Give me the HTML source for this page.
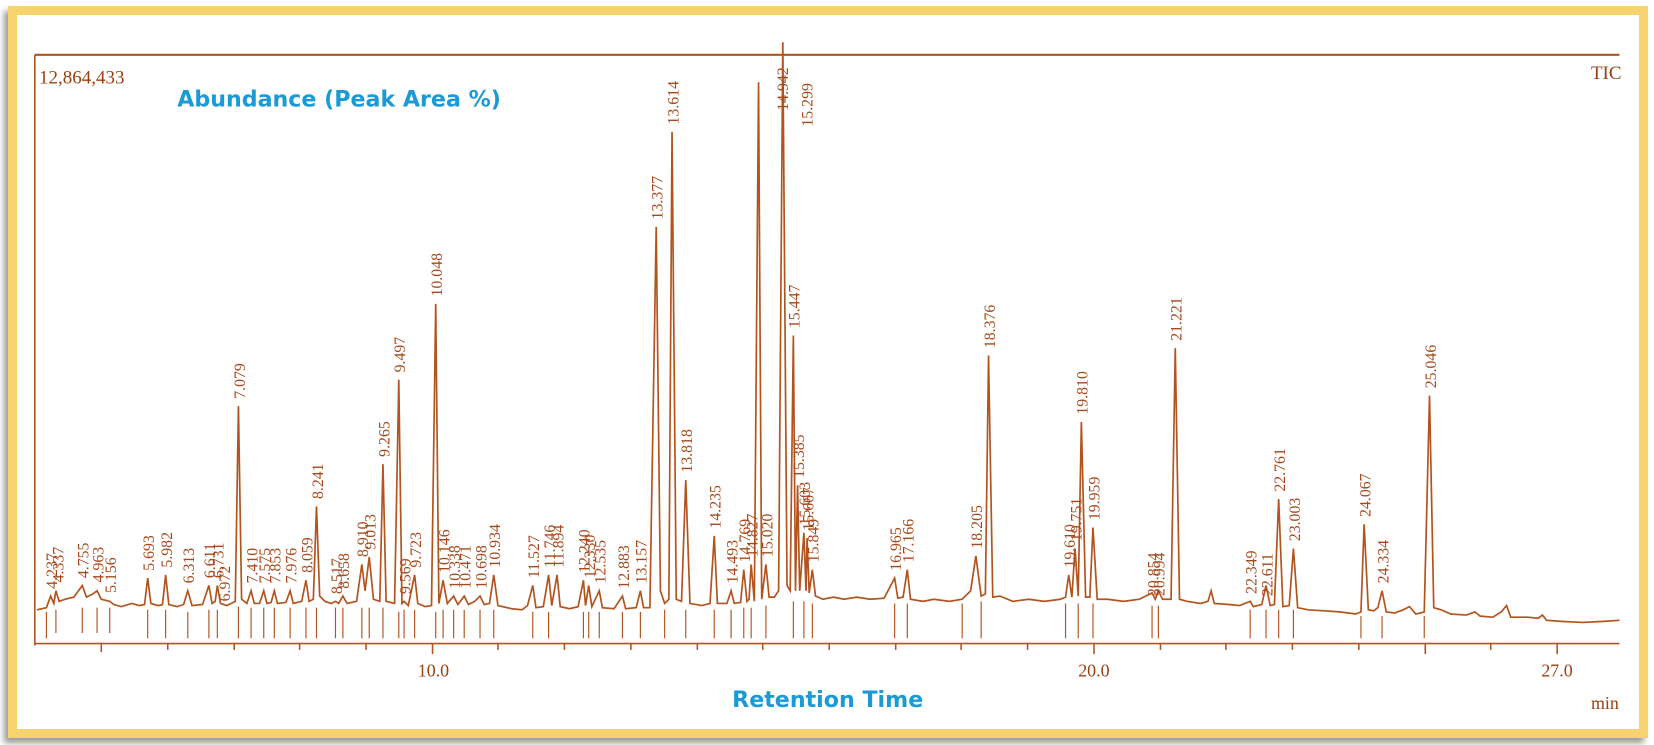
<!DOCTYPE html>
<html><head><meta charset="utf-8"><style>
html,body{margin:0;padding:0;background:#fff;width:1654px;height:745px;overflow:hidden}
#f{position:absolute;left:8px;top:6px;width:1622px;height:714px;border:9px solid #f6d36e;box-shadow:-4px 5px 6px #9a9a9a;background:#fff}
svg{position:absolute;left:0;top:0}
</style></head><body>
<div id="f"></div>
<svg width="1654" height="745" viewBox="0 0 1654 745">
<g transform="scale(1.055)" font-family="Liberation Serif, serif" fill="none" stroke="#b2541e">
<line x1="33" y1="52" x2="1535" y2="52" stroke-width="2"/>
<line x1="33" y1="52" x2="33" y2="612" stroke-width="1.5"/>
<line x1="33" y1="610" x2="1535" y2="610" stroke-width="1.5"/>
<g stroke-width="1.5">
<path d="M96 610v8M159 610v6M222 610v6M284 610v6M347 610v6M410 610v10M472 610v6M535 610v6M598 610v6M661 610v6M723 610v6M786 610v6M849 610v6M911 610v6M974 610v6M1037 610v10M1100 610v6M1162 610v6M1225 610v6M1288 610v6M1351 610v10M1413 610v6M1476 610v10"/>
</g>
<path stroke-width="1.6" d="M35 578 L44 576 L48 565 L51 572 L53 560 L56 570 L62 568 L70 566 L78 555 L82 566 L88 563 L92 560 L96 568 L104 570 L108 573 L115 575 L125 572 L132 574 L137 573 L140 548 L143 572 L150 574 L154 573 L157 545 L160 573 L168 575 L174 573 L178 560 L182 574 L192 573 L198 555 L201 572 L204 570 L206 555 L209 572 L215 574 L223 570 L226 385 L229 568 L234 572 L238 560 L241 572 L246 572 L250 560 L253 572 L257 571 L260 560 L263 572 L271 571 L275 560 L278 572 L286 570 L290 550 L293 570 L297 568 L300 480 L303 565 L308 570 L314 572 L318 570 L321 572 L325 565 L329 572 L338 570 L343 535 L346 560 L350 528 L354 568 L360 570 L363 440 L366 570 L374 572 L378 360 L381 572 L383 570 L387 574 L393 545 L396 572 L403 575 L409 574 L413 288 L416 572 L420 550 L424 572 L430 565 L434 573 L440 565 L444 573 L450 570 L455 565 L459 573 L464 572 L468 545 L472 574 L485 577 L495 578 L500 574 L505 555 L508 576 L515 575 L520 545 L523 574 L528 545 L531 575 L540 577 L548 575 L553 550 L555 574 L558 555 L561 575 L568 560 L571 576 L582 577 L590 565 L593 577 L603 576 L607 560 L610 576 L616 576 L622 215 L626 560 L630 572 L634 568 L637 125 L641 568 L646 570 L650 455 L654 572 L665 574 L673 572 L677 508 L680 572 L689 572 L693 560 L696 572 L702 571 L705 540 L708 570 L710 568 L712 535 L715 570 L719 78 L722 568 L726 535 L729 566 L734 566 L738 560 L742 40 L746 555 L749 560 L752 318 L754 560 L756 460 L758 560 L762 505 L764 560 L765 510 L767 562 L770 540 L773 565 L780 568 L790 566 L800 568 L812 566 L825 568 L838 567 L848 548 L851 567 L856 566 L860 540 L863 568 L875 570 L885 568 L900 570 L912 568 L920 560 L925 527 L930 565 L934 563 L937 337 L941 566 L948 565 L960 570 L975 568 L990 570 L1005 568 L1010 566 L1013 545 L1016 566 L1019 520 L1022 565 L1025 400 L1029 566 L1033 566 L1036 500 L1040 568 L1050 568 L1065 570 L1080 568 L1092 562 L1095 568 L1098 560 L1102 568 L1110 568 L1114 330 L1118 568 L1125 570 L1138 572 L1145 570 L1148 560 L1151 572 L1165 573 L1175 574 L1185 570 L1188 575 L1196 573 L1200 555 L1204 574 L1208 573 L1212 473 L1216 575 L1222 574 L1226 520 L1230 576 L1240 578 L1255 579 L1270 580 L1285 582 L1290 580 L1293 497 L1297 578 L1302 579 L1306 576 L1310 560 L1314 580 L1322 581 L1330 578 L1336 575 L1342 582 L1350 580 L1355 375 L1359 576 L1366 578 L1375 582 L1390 583 L1398 580 L1403 584 L1415 585 L1423 580 L1428 574 L1432 585 L1448 585 L1458 586 L1462 583 L1466 588 L1480 589 L1500 590 L1520 589 L1535 588"/>
<path stroke-width="1.1" d="M44 605V580M53 600V578M78 600V576M92 600V576M104 600V576M140 605V578M157 605V578M178 605V580M198 605V578M206 605V578M226 605V575M238 605V576M250 605V576M260 605V576M275 605V576M290 605V576M300 605V576M318 605V576M325 605V576M343 605V576M350 605V576M363 605V576M378 605V580M383 605V578M393 605V578M413 605V580M420 605V578M430 605V578M440 605V578M455 605V578M468 605V578M505 605V580M520 605V580M553 605V580M558 605V580M568 605V580M590 605V580M607 605V580M630 605V578M650 605V578M677 605V578M693 605V578M705 605V576M712 605V576M726 605V574M752 605V570M762 605V570M770 605V572M848 605V572M860 605V572M912 605V572M930 605V570M1010 605V572M1022 605V572M1036 605V572M1092 605V574M1098 605V574M1185 605V578M1200 605V578M1212 605V578M1226 605V578M1290 605V584M1310 605V584M1350 605V584"/>
<g fill="#9c3f10" stroke="none" font-size="16">
<text x="37" y="79" font-size="18">12,864,433</text>
<text x="1508" y="75" font-size="18">TIC</text>
<text x="396" y="641" font-size="17">10.0</text>
<text x="1022" y="641" font-size="17">20.0</text>
<text x="1461" y="641" font-size="17">27.0</text>
<text x="1508" y="672" font-size="17">min</text>
</g>
<g fill="#a8481a" stroke="none" font-size="15">
<text transform="translate(54,558) rotate(-90)">4.237</text>
<text transform="translate(60,552) rotate(-90)">4.337</text>
<text transform="translate(84,548) rotate(-90)">4.755</text>
<text transform="translate(98,552) rotate(-90)">4.963</text>
<text transform="translate(110,562) rotate(-90)">5.156</text>
<text transform="translate(146,541) rotate(-90)">5.693</text>
<text transform="translate(163,538) rotate(-90)">5.982</text>
<text transform="translate(184,553) rotate(-90)">6.313</text>
<text transform="translate(204,548) rotate(-90)">6.611</text>
<text transform="translate(212,548) rotate(-90)">6.731</text>
<text transform="translate(218,570) rotate(-90)">6.972</text>
<text transform="translate(232,378) rotate(-90)">7.079</text>
<text transform="translate(244,553) rotate(-90)">7.410</text>
<text transform="translate(256,553) rotate(-90)">7.575</text>
<text transform="translate(266,553) rotate(-90)">7.853</text>
<text transform="translate(281,553) rotate(-90)">7.976</text>
<text transform="translate(296,543) rotate(-90)">8.059</text>
<text transform="translate(306,473) rotate(-90)">8.241</text>
<text transform="translate(324,563) rotate(-90)">8.517</text>
<text transform="translate(331,558) rotate(-90)">8.658</text>
<text transform="translate(349,528) rotate(-90)">8.910</text>
<text transform="translate(356,521) rotate(-90)">9.013</text>
<text transform="translate(369,433) rotate(-90)">9.265</text>
<text transform="translate(384,353) rotate(-90)">9.497</text>
<text transform="translate(389,563) rotate(-90)">9.569</text>
<text transform="translate(399,538) rotate(-90)">9.723</text>
<text transform="translate(419,281) rotate(-90)">10.048</text>
<text transform="translate(426,543) rotate(-90)">10.146</text>
<text transform="translate(436,558) rotate(-90)">10.338</text>
<text transform="translate(446,558) rotate(-90)">10.471</text>
<text transform="translate(461,558) rotate(-90)">10.698</text>
<text transform="translate(474,538) rotate(-90)">10.934</text>
<text transform="translate(511,548) rotate(-90)">11.527</text>
<text transform="translate(526,538) rotate(-90)">11.746</text>
<text transform="translate(534,538) rotate(-90)">11.894</text>
<text transform="translate(559,543) rotate(-90)">12.240</text>
<text transform="translate(564,548) rotate(-90)">12.330</text>
<text transform="translate(574,553) rotate(-90)">12.535</text>
<text transform="translate(596,558) rotate(-90)">12.883</text>
<text transform="translate(613,553) rotate(-90)">13.157</text>
<text transform="translate(628,208) rotate(-90)">13.377</text>
<text transform="translate(643,118) rotate(-90)">13.614</text>
<text transform="translate(656,448) rotate(-90)">13.818</text>
<text transform="translate(683,501) rotate(-90)">14.235</text>
<text transform="translate(699,553) rotate(-90)">14.493</text>
<text transform="translate(711,533) rotate(-90)">14.769</text>
<text transform="translate(718,528) rotate(-90)">14.827</text>
<text transform="translate(732,528) rotate(-90)">15.020</text>
<text transform="translate(747,105) rotate(-90)">14.942</text>
<text transform="translate(770,120) rotate(-90)">15.299</text>
<text transform="translate(758,311) rotate(-90)">15.447</text>
<text transform="translate(762,453) rotate(-90)">15.385</text>
<text transform="translate(768,498) rotate(-90)">15.603</text>
<text transform="translate(771,503) rotate(-90)">15.667</text>
<text transform="translate(776,533) rotate(-90)">15.849</text>
<text transform="translate(854,541) rotate(-90)">16.965</text>
<text transform="translate(866,533) rotate(-90)">17.166</text>
<text transform="translate(931,520) rotate(-90)">18.205</text>
<text transform="translate(943,330) rotate(-90)">18.376</text>
<text transform="translate(1019,538) rotate(-90)">19.610</text>
<text transform="translate(1025,513) rotate(-90)">19.751</text>
<text transform="translate(1031,393) rotate(-90)">19.810</text>
<text transform="translate(1042,493) rotate(-90)">19.959</text>
<text transform="translate(1098,565) rotate(-90)">20.854</text>
<text transform="translate(1104,565) rotate(-90)">20.994</text>
<text transform="translate(1120,323) rotate(-90)">21.221</text>
<text transform="translate(1191,563) rotate(-90)">22.349</text>
<text transform="translate(1206,565) rotate(-90)">22.611</text>
<text transform="translate(1218,466) rotate(-90)">22.761</text>
<text transform="translate(1232,513) rotate(-90)">23.003</text>
<text transform="translate(1299,490) rotate(-90)">24.067</text>
<text transform="translate(1316,553) rotate(-90)">24.334</text>
<text transform="translate(1361,368) rotate(-90)">25.046</text>
</g>
<g fill="#1a9ad6" stroke="none" font-family="DejaVu Sans, sans-serif" font-weight="bold">
<text x="168" y="101" font-size="21">Abundance (Peak Area %)</text>
<text x="694" y="670" font-size="21">Retention Time</text>
</g>
</g>
</svg>
</body></html>
